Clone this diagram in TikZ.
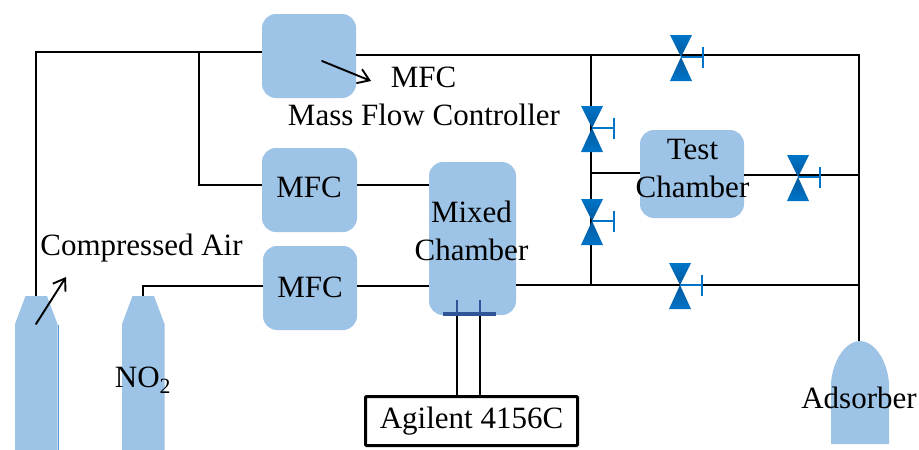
\documentclass[tikz,border=0pt]{standalone}
\usepackage{fontspec}
\setmainfont{Liberation Serif}
\usetikzlibrary{arrows.meta,calc}
\tikzset{>={Straight Barb[length=11pt,width=15pt]}}
\definecolor{boxB}{HTML}{9DC3E6}
\definecolor{vlvA}{HTML}{0074C8}
\definecolor{vlvB}{HTML}{005A9E}
\definecolor{plate}{HTML}{2F5597}
\definecolor{edgeB}{HTML}{5B9BD5}
\tikzset{
  pipe/.style={line width=2.7pt,line join=miter},
  pointer/.style={->,line width=1.9pt,line cap=round},
  chamber/.style={fill=boxB,rounded corners=14pt,inner sep=0pt},
  lbl/.style={font=\fontsize{31}{38}\selectfont,inner sep=0pt,align=center},
}
\newcommand{\valve}[3]{%
  \coordinate (#1) at (#2,#3);
  \shade[top color=vlvA,bottom color=vlvB] ($(#1)+(-11,-22)$) -- ($(#1)+(11,-22)$) -- (#1) -- cycle;
  \shade[top color=vlvB,bottom color=vlvA] ($(#1)+(-11,24)$) -- ($(#1)+(11,24)$) -- (#1) -- cycle;
  \draw[vlvA,line width=2.2pt] (#1) -- ($(#1)+(22,0)$);
  \draw[vlvA,line width=2.6pt] ($(#1)+(22,-10.5)$) -- ($(#1)+(22,10.5)$);
}
\newcommand{\bottle}[2]{%
  \fill[boxB] (#2-21,450) -- (#2-21,324) -- (#2-10.5,296) -- (#2+11,296) -- (#2+21.5,324) -- (#2+21.5,450) -- cycle;
  \coordinate (#1) at (#2,296);
}
\begin{document}
\begin{tikzpicture}[x=1pt,y=-1pt]
\useasboundingbox (0,0) rectangle (919,450);
% blue shapes
\node[chamber,minimum width=94pt,minimum height=84pt] (mfcTop) at (309,56) {};
\node[chamber,minimum width=95pt,minimum height=84pt] (mfcMid) at (309.5,190) {};
\node[chamber,minimum width=94pt,minimum height=84pt] (mfcLow) at (310,288) {};
\node[chamber,minimum width=87pt,minimum height=153pt] (mixed) at (472.5,238.5) {};
\node[chamber,minimum width=104pt,minimum height=88pt] (test) at (692,174) {};
\bottle{air}{36}
\bottle{notwo}{143}
\draw[edgeB,line width=0.8pt] (58,325) -- (58,450);
\fill[boxB] (831,444) -- (831,383) .. controls (833,358) and (847,341) .. (860,341) .. controls (873,341) and (887,358) .. (889,383) -- (889,444) -- cycle;
\coordinate (adsorb) at (859,341);
% junctions
\coordinate (topL) at (36,52);
\coordinate (splitA) at (199,52);
\coordinate (splitB) at (199,185);
\coordinate (topR) at (591,55);
\coordinate (cornerA) at (859,55);
\coordinate (lowV) at (591,285);
\coordinate (lowR) at (859,285);
\coordinate (testL) at (591,173);
\coordinate (testR) at (859,175);
\coordinate (noCorner) at (143,286);
% pipes
\draw[pipe] (air) -- (topL) -- (mfcTop.west |- topL);
\draw[pipe] (splitA) -- (splitB) -- (mfcMid.west |- splitB);
\draw[pipe] (mfcTop.east |- topR) -- (cornerA) -- (adsorb);
\draw[pipe] (mfcMid.east |- splitB) -- (mixed.west |- splitB);
\draw[pipe] (notwo) -- (noCorner) -- (mfcLow.west |- noCorner);
\draw[pipe] (mfcLow.east |- noCorner) -- (mixed.west |- noCorner);
\draw[pipe] (mixed.east |- lowV) -- (lowR);
\draw[pipe] (topR) -- (lowV);
\draw[pipe] (testL) -- (test.west |- testL);
\draw[pipe] (test.east |- testR) -- (testR);
% valves
\valve{vTop}{681}{57}
\valve{vUp}{592}{128}
\valve{vDown}{592}{221}
\valve{vTest}{798}{177}
\valve{vLow}{680}{285}
% instrument
\node[draw,line width=3pt,rounded corners=1pt,minimum width=212pt,minimum height=49pt,inner sep=0pt,font=\fontsize{31}{36}\selectfont] (agilent) at (471.5,421) {\raisebox{-3pt}{Agilent 4156C}};
\draw[plate,line width=2.4pt] (457,300) -- (457,314);
\draw[plate,line width=2.4pt] (480,300) -- (480,314);
\draw[pipe] (457,314) -- (457,396);
\draw[pipe] (480,314) -- (480,396);
\draw[plate,line width=3.4pt] (443,314) -- (496,314);
% arrows
\draw[pointer] (36,324) -- (66,277);
\draw[pointer] (322,61) -- (371,81);
% labels
\node[lbl] (lblTop) at (423.5,77) {MFC};
\node[lbl] (lblFull) at (424,115) {Mass Flow Controller};
\node[lbl] (lblMid) at (309,187) {MFC};
\node[lbl] (lblLow) at (310,287) {MFC};
\node[lbl] (lblMixed) at (471.5,231) {Mixed\\Chamber};
\node[lbl] (lblTest) at (692.5,168) {Test\\Chamber};
\node[lbl] (lblAir) at (141.5,248) {Compressed Air};
\node[lbl] (lblNo) at (143,380) {NO\textsubscript{2}};
\node[lbl] (lblAds) at (859,398) {Adsorber};
\end{tikzpicture}
\end{document}
